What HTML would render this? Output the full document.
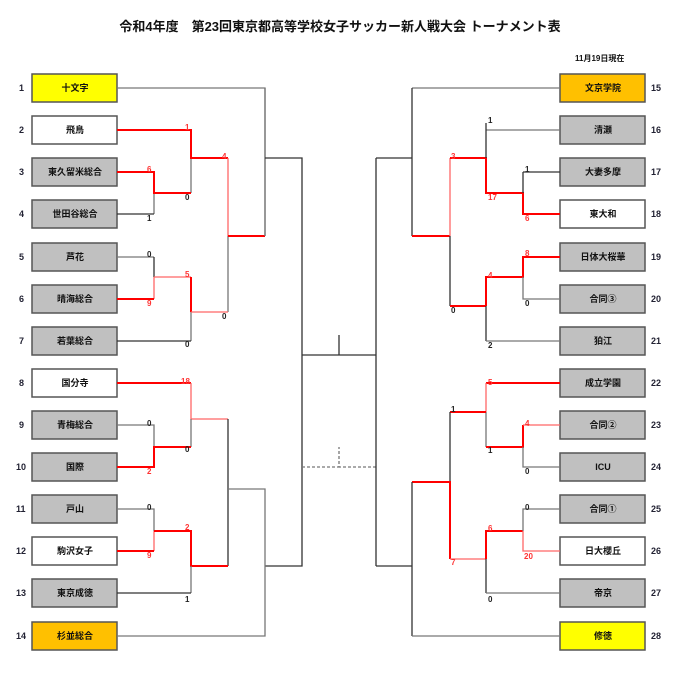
<!DOCTYPE html>
<html><head><meta charset="utf-8"><style>
body{margin:0;background:#fff;}
svg{display:block;font-family:"Liberation Sans","Noto Sans CJK JP",sans-serif;}
.b{stroke:#333;stroke-width:1.3;fill:none}
.g{stroke:#777;stroke-width:1.3;fill:none}
.r{stroke:#f00;stroke-width:2;fill:none}
.lr{stroke:#f66;stroke-width:1.3;fill:none}
.s{font-size:8px;font-weight:bold;fill:#222}
.sr{font-size:8px;font-weight:bold;fill:#f33}
.n{font-size:9px;font-weight:bold;fill:#223}
.t{font-size:9px;font-weight:bold;fill:#111;text-anchor:middle}
</style></head><body>
<svg width="680" height="685" viewBox="0 0 680 685">
<text x="340" y="31" text-anchor="middle" font-size="13" font-weight="bold" fill="#111">令和4年度　第23回東京都高等学校女子サッカー新人戦大会 トーナメント表</text>
<text x="575" y="61" font-size="8" font-weight="bold" fill="#111">11月19日現在</text>
<!-- boxes left -->
<g stroke="#555" stroke-width="1.5">
<rect x="32" y="74" width="85" height="28" fill="#ffff00"/>
<rect x="32" y="116" width="85" height="28" fill="#fff"/>
<rect x="32" y="158" width="85" height="28" fill="#c0c0c0"/>
<rect x="32" y="200" width="85" height="28" fill="#c0c0c0"/>
<rect x="32" y="243" width="85" height="28" fill="#c0c0c0"/>
<rect x="32" y="285" width="85" height="28" fill="#c0c0c0"/>
<rect x="32" y="327" width="85" height="28" fill="#c0c0c0"/>
<rect x="32" y="369" width="85" height="28" fill="#fff"/>
<rect x="32" y="411" width="85" height="28" fill="#c0c0c0"/>
<rect x="32" y="453" width="85" height="28" fill="#c0c0c0"/>
<rect x="32" y="495" width="85" height="28" fill="#c0c0c0"/>
<rect x="32" y="537" width="85" height="28" fill="#fff"/>
<rect x="32" y="579" width="85" height="28" fill="#c0c0c0"/>
<rect x="32" y="622" width="85" height="28" fill="#ffc000"/>
<rect x="560" y="74" width="85" height="28" fill="#ffc000"/>
<rect x="560" y="116" width="85" height="28" fill="#c0c0c0"/>
<rect x="560" y="158" width="85" height="28" fill="#c0c0c0"/>
<rect x="560" y="200" width="85" height="28" fill="#fff"/>
<rect x="560" y="243" width="85" height="28" fill="#c0c0c0"/>
<rect x="560" y="285" width="85" height="28" fill="#c0c0c0"/>
<rect x="560" y="327" width="85" height="28" fill="#c0c0c0"/>
<rect x="560" y="369" width="85" height="28" fill="#c0c0c0"/>
<rect x="560" y="411" width="85" height="28" fill="#c0c0c0"/>
<rect x="560" y="453" width="85" height="28" fill="#c0c0c0"/>
<rect x="560" y="495" width="85" height="28" fill="#c0c0c0"/>
<rect x="560" y="537" width="85" height="28" fill="#fff"/>
<rect x="560" y="579" width="85" height="28" fill="#c0c0c0"/>
<rect x="560" y="622" width="85" height="28" fill="#ffff00"/>
</g>
<g class="t">
<text x="75" y="91">十文字</text><text x="75" y="133">飛鳥</text><text x="75" y="175">東久留米総合</text><text x="75" y="217">世田谷総合</text><text x="75" y="260">芦花</text><text x="75" y="302">晴海総合</text><text x="75" y="344">若葉総合</text><text x="75" y="386">国分寺</text><text x="75" y="428">青梅総合</text><text x="75" y="470">国際</text><text x="75" y="512">戸山</text><text x="75" y="554">駒沢女子</text><text x="75" y="596">東京成徳</text><text x="75" y="639">杉並総合</text>
<text x="603" y="91">文京学院</text><text x="603" y="133">清瀬</text><text x="603" y="175">大妻多摩</text><text x="603" y="217">東大和</text><text x="603" y="260">日体大桜華</text><text x="603" y="302">合同③</text><text x="603" y="344">狛江</text><text x="603" y="386">成立学園</text><text x="603" y="428">合同②</text><text x="603" y="470">ICU</text><text x="603" y="512">合同①</text><text x="603" y="554">日大櫻丘</text><text x="603" y="596">帝京</text><text x="603" y="639">修徳</text>
</g>
<g class="n">
<text x="19" y="91">1</text><text x="19" y="133">2</text><text x="19" y="175">3</text><text x="19" y="217">4</text><text x="19" y="260">5</text><text x="19" y="302">6</text><text x="19" y="344">7</text><text x="19" y="386">8</text><text x="19" y="428">9</text><text x="16" y="470">10</text><text x="16" y="512">11</text><text x="16" y="554">12</text><text x="16" y="596">13</text><text x="16" y="639">14</text>
<text x="651" y="91">15</text><text x="651" y="133">16</text><text x="651" y="175">17</text><text x="651" y="217">18</text><text x="651" y="260">19</text><text x="651" y="302">20</text><text x="651" y="344">21</text><text x="651" y="386">22</text><text x="651" y="428">23</text><text x="651" y="470">24</text><text x="651" y="512">25</text><text x="651" y="554">26</text><text x="651" y="596">27</text><text x="651" y="639">28</text>
</g>
<!-- left top -->
<path class="g" d="M117 88H265V236"/>
<path class="g" d="M154 193V214"/><path class="b" d="M117 214H154"/>
<path class="g" d="M191 158V193"/>
<path class="r" d="M117 130H191V158H228"/>
<path class="r" d="M117 172H154V193H191"/>
<path class="lr" d="M228 158V236"/><path class="g" d="M228 236V312"/>
<path class="r" d="M228 236H265"/>
<path class="g" d="M117 257H154"/><path class="b" d="M154 257V277"/>
<path class="lr" d="M154 277V299M154 277H191"/>
<path class="r" d="M117 299H154"/>
<path class="r" d="M191 277V312"/><path class="g" d="M191 312V341"/>
<path class="lr" d="M191 312H228"/>
<path class="b" d="M117 341H191"/>
<path class="g" d="M265 88V236"/>
<path class="b" d="M265 158H302V566H265M302 355H376M339 335V355"/>
<path class="g" d="M302 467H339V447" stroke-dasharray="3,2"/>
<path class="g" d="M376 467H339" stroke-dasharray="3,2"/>
<!-- left bottom -->
<path class="r" d="M117 383H191"/><path class="lr" d="M191 383V419H228"/><path class="g" d="M191 419V447"/>
<path class="g" d="M117 425H154V447"/>
<path class="r" d="M117 467H154V447H191"/>
<path class="b" d="M228 419V566"/><path class="g" d="M228 489H265V636H117"/>
<path class="g" d="M117 509H154V531"/>
<path class="lr" d="M154 531V551"/><path class="r" d="M117 551H154M154 531H191V566H228"/>
<path class="g" d="M191 566V593"/><path class="b" d="M117 593H191"/>
<!-- right top -->
<path class="g" d="M560 88H412"/><path class="b" d="M412 88V236M376 158V566M376 158H412"/>
<path class="r" d="M412 236H450"/><path class="lr" d="M450 158V236"/><path class="b" d="M450 236V306"/>
<path class="r" d="M450 306H486M450 158H486V193H523V214H560"/>
<path class="g" d="M560 130H486"/><path class="b" d="M486 123V158M523 172V193M523 172H560"/>
<path class="r" d="M560 257H523V277H486V306"/><path class="g" d="M523 277V299H560"/>
<path class="b" d="M486 306V341"/><path class="g" d="M486 341H560"/>
<!-- right bottom -->
<path class="r" d="M560 383H486"/><path class="lr" d="M486 383V412"/><path class="g" d="M486 412V447"/>
<path class="r" d="M450 412H486M486 447H523V425"/><path class="lr" d="M523 425H560"/>
<path class="g" d="M523 447V467H560"/>
<path class="b" d="M450 412V482"/><path class="r" d="M412 482H450V559"/><path class="lr" d="M450 559H486"/>
<path class="r" d="M486 559V531H523"/><path class="b" d="M486 559V593"/><path class="g" d="M486 593H560"/>
<path class="g" d="M560 509H523V531"/><path class="lr" d="M523 531V551H560"/>
<path class="b" d="M412 482V636M376 566H412"/><path class="g" d="M412 636H560"/>
<!-- scores -->
<text class="sr" x="185" y="130">1</text><text class="sr" x="147" y="172">6</text><text class="s" x="185" y="200">0</text><text class="s" x="147" y="221">1</text><text class="sr" x="222" y="159">4</text><text class="s" x="147" y="257">0</text><text class="sr" x="147" y="306">9</text><text class="sr" x="185" y="277">5</text><text class="s" x="222" y="319">0</text><text class="s" x="185" y="347">0</text>
<text class="sr" x="181" y="384">18</text><text class="s" x="147" y="426">0</text><text class="s" x="185" y="452">0</text><text class="sr" x="147" y="474">2</text><text class="s" x="147" y="510">0</text><text class="sr" x="147" y="558">9</text><text class="sr" x="185" y="530">2</text><text class="s" x="185" y="602">1</text>
<text class="s" x="488" y="123">1</text><text class="sr" x="451" y="159">3</text><text class="sr" x="488" y="200">17</text><text class="s" x="525" y="172">1</text><text class="sr" x="525" y="221">6</text><text class="sr" x="525" y="256">8</text><text class="sr" x="488" y="278">4</text><text class="s" x="525" y="306">0</text><text class="s" x="451" y="313">0</text><text class="s" x="488" y="348">2</text>
<text class="sr" x="488" y="385">5</text><text class="s" x="451" y="412">1</text><text class="s" x="488" y="453">1</text><text class="sr" x="525" y="426">4</text><text class="s" x="525" y="474">0</text><text class="s" x="525" y="510">0</text><text class="sr" x="488" y="531">6</text><text class="sr" x="524" y="559">20</text><text class="sr" x="451" y="565">7</text><text class="s" x="488" y="602">0</text>
</svg>
</body></html>
